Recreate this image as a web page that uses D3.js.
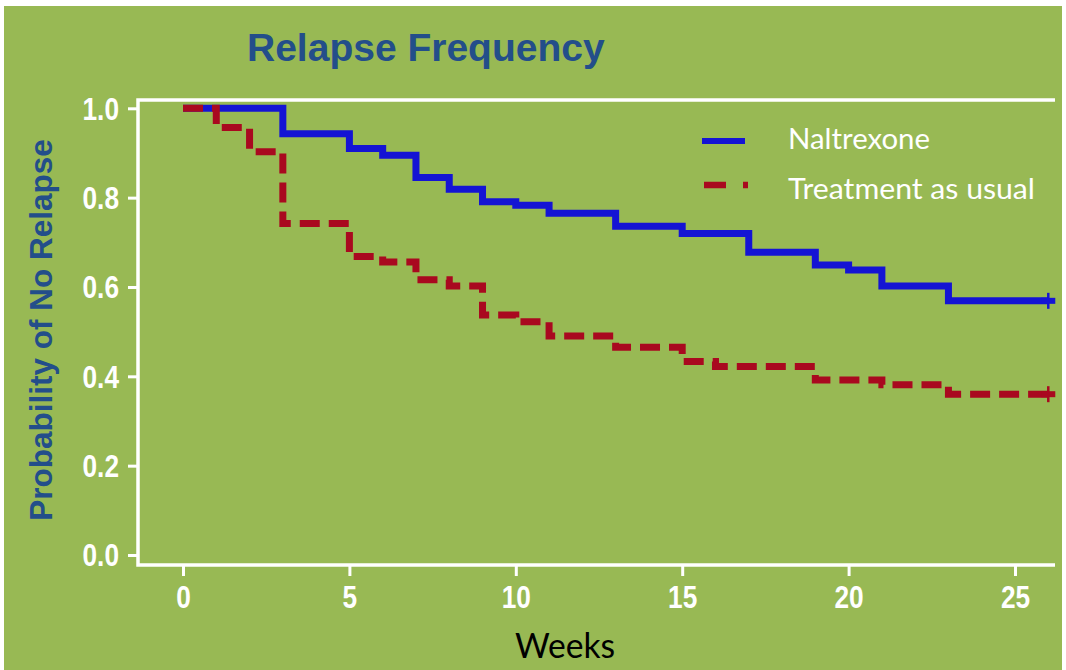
<!DOCTYPE html>
<html>
<head>
<meta charset="utf-8">
<script src="https://cdn.jsdelivr.net/npm/d3@7"></script>
<style>
  body { margin: 0; background: #ffffff; }
  .tick text { font-family: "Liberation Sans Narrow", "Arial Narrow", "Liberation Sans", sans-serif; font-weight: bold; }
</style>
</head>
<body>
<div id="chart"></div>
<script>
"use strict";

var width = 1066;
var height = 670;

// Naltrexone group (weeks of each step, survival after the step)
var naltrexone_weeks = [0, 3, 5, 6, 7, 8, 9, 10, 11, 13, 15, 17, 19, 20, 21, 23];
var naltrexone_surv = [1.0, 0.943, 0.910, 0.895, 0.845, 0.819, 0.791, 0.783, 0.765, 0.736, 0.720, 0.678, 0.649, 0.638, 0.602, 0.569];

// Treatment as usual group
var tau_weeks = [0, 1, 2, 3, 5, 6, 7, 8, 9, 10, 11, 13, 15, 16, 19, 21, 23];
var tau_surv = [1.0, 0.957, 0.903, 0.742, 0.668, 0.656, 0.616, 0.602, 0.537, 0.522, 0.490, 0.465, 0.433, 0.422, 0.392, 0.381, 0.360];

var last_week = 26;

var x_ticks = [0, 5, 10, 15, 20, 25];
var y_ticks = [0, 0.2, 0.4, 0.6, 0.8, 1.0];

var series_names = ["Naltrexone", "Treatment as usual"];
var series_colors = ["#1414d4", "#a9091f"];

var xScale = d3.scaleLinear()
               .domain([0, 25])
               .range([183, 1015]);

var yScale = d3.scaleLinear()
               .domain([0, 1])
               .range([555, 108.3]);

var svg = d3.select("#chart")
            .append("svg")
            .attr("width", width)
            .attr("height", height);

// green panel
svg.append("rect")
   .attr("x", 4)
   .attr("y", 6)
   .attr("width", 1058)
   .attr("height", 664)
   .attr("fill", "#98b954");

// title
svg.append("text")
   .attr("x", 247)
   .attr("y", 61)
   .style("font-family", "Liberation Sans, Arial, sans-serif")
   .style("font-weight", "bold")
   .style("font-size", "39px")
   .attr("fill", "#234e8a")
   .text("Relapse Frequency");

// frame: top, left, bottom
svg.append("path")
   .attr("d", "M1055,100 H138 V565 H1055")
   .attr("fill", "none")
   .attr("stroke", "#ffffff")
   .attr("stroke-width", 3.5);

var yAxis = d3.axisLeft(yScale)
              .tickValues(y_ticks)
              .tickFormat(d3.format(".1f"))
              .tickSize(9)
              .tickSizeOuter(0)
              .tickPadding(9);

var xAxis = d3.axisBottom(xScale)
              .tickValues(x_ticks)
              .tickFormat(d3.format("d"))
              .tickSize(10)
              .tickSizeOuter(0)
              .tickPadding(9);

var gy = svg.append("g")
            .attr("transform", "translate(137,0)")
            .call(yAxis);

var gx = svg.append("g")
            .attr("transform", "translate(0,566)")
            .call(xAxis);

[gy, gx].forEach(function(g) {
   g.select(".domain").remove();
   g.selectAll(".tick line").attr("stroke", "#ffffff").attr("stroke-width", 3);
   g.selectAll(".tick text")
    .attr("fill", "#ffffff")
    .style("font-size", "32px")
    .attr("lengthAdjust", "spacingAndGlyphs")
    .attr("textLength", function() {
       // narrow look if no narrow face is installed
       var w = this.getComputedTextLength();
       return w > 0 ? w * 0.82 : null;
    });
});

gy.selectAll(".tick text").attr("dy", "0.34em");

// y axis label
svg.append("text")
   .attr("transform", "translate(51.5,330) rotate(-90)")
   .attr("text-anchor", "middle")
   .style("font-family", "Liberation Sans, Arial, sans-serif")
   .style("font-weight", "bold")
   .style("font-size", "31.5px")
   .attr("fill", "#234e8a")
   .text("Probability of No Relapse");

// x axis label
svg.append("text")
   .attr("x", 565)
   .attr("y", 658)
   .attr("text-anchor", "middle")
   .attr("textLength", 100)
   .attr("lengthAdjust", "spacingAndGlyphs")
   .style("font-family", "Lato, 'Open Sans', sans-serif")
   .style("font-size", "34px")
   .attr("fill", "#000000")
   .text("Weeks");

var stepLine = d3.line()
                 .x(function(d) { return xScale(d[0]); })
                 .y(function(d) { return yScale(d[1]); })
                 .curve(d3.curveStepAfter);

function makePoints(weeks, surv) {
   var pts = weeks.map(function(w, i) { return [w, surv[i]]; });
   pts.push([last_week, surv[surv.length - 1]]);
   return pts;
}

var curves = [
   { pts: makePoints(naltrexone_weeks, naltrexone_surv), color: series_colors[0], dash: null },
   { pts: makePoints(tau_weeks, tau_surv), color: series_colors[1], dash: "20,9" }
];

curves.forEach(function(c) {
   svg.append("path")
      .attr("d", stepLine(c.pts))
      .attr("fill", "none")
      .attr("stroke", c.color)
      .attr("stroke-width", 7)
      .attr("stroke-dasharray", c.dash);

   // censor mark at the end
   var last = c.pts[c.pts.length - 1];
   var cx = xScale(last[0]);
   var cy = yScale(last[1]);
   svg.append("path")
      .attr("d", "M" + cx + "," + (cy - 8) + " V" + (cy + 8))
      .attr("fill", "none")
      .attr("stroke", c.color)
      .attr("stroke-width", 2.5);
   svg.append("path")
      .attr("d", "M" + (cx - 7) + "," + cy + " H" + (cx + 7))
      .attr("stroke", c.color)
      .attr("stroke-width", 6);
});

// legend
var legend = svg.append("g");

legend.append("line")
      .attr("x1", 702).attr("x2", 745)
      .attr("y1", 141).attr("y2", 141)
      .attr("stroke", series_colors[0])
      .attr("stroke-width", 6);

legend.append("line")
      .attr("x1", 704).attr("x2", 748)
      .attr("y1", 185).attr("y2", 185)
      .attr("stroke", series_colors[1])
      .attr("stroke-width", 6.5)
      .attr("stroke-dasharray", "22,17");

legend.selectAll("text.lab")
      .data(series_names)
      .enter()
      .append("text")
      .attr("class", "lab")
      .attr("x", 788)
      .attr("y", function(d, i) { return 149 + i * 50; })
      .attr("textLength", function(d, i) { return i === 0 ? 142 : 247; })
      .attr("lengthAdjust", "spacingAndGlyphs")
      .style("font-family", "Lato, 'Open Sans', sans-serif")
      .style("font-size", "29px")
      .attr("fill", "#ffffff")
      .text(function(d) { return d; });
</script>
</body>
</html>
